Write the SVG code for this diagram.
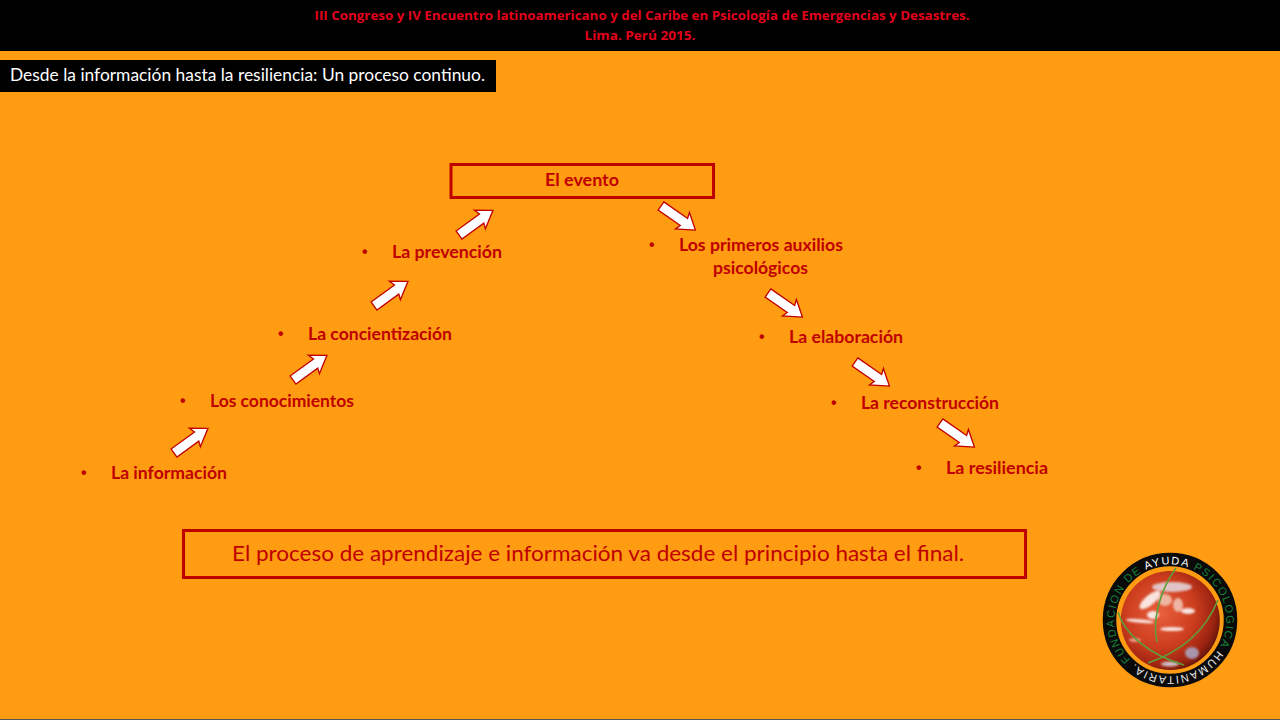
<svg xmlns="http://www.w3.org/2000/svg" width="1280" height="720" viewBox="0 0 1280 720">
<style>
.lbl{font-family:Lato,"Open Sans",sans-serif;font-size:16.500px;font-weight:700;fill:#c00000}
.bul{font-family:"Liberation Sans",sans-serif;font-size:16px;font-weight:700;fill:#c00000}
.box{fill:none;stroke:#c00000;stroke-width:3}
.arrow{fill:#fff;stroke:#c00000;stroke-width:1.3;stroke-linejoin:miter}
.hd{font-family:"Open Sans",sans-serif;font-size:12px;font-weight:700;fill:#e3001b;text-anchor:middle}
.logo{font-family:"Liberation Sans",sans-serif;font-size:11px;letter-spacing:1.500px}
</style>
<defs>
<polygon id="arr" points="0,-5 29,-5 27,-11 42,0 25,10.500 27,5 0,5"/>
<radialGradient id="globe" cx="0.4" cy="0.42" r="0.64">
<stop offset="0" stop-color="#e8603c"/><stop offset="0.55" stop-color="#cc3d1e"/><stop offset="0.85" stop-color="#9c2310"/><stop offset="1" stop-color="#5c150a"/>
</radialGradient>
<filter id="soft" x="-30%" y="-30%" width="160%" height="160%"><feGaussianBlur stdDeviation="0.8"/></filter>
<path id="ring" d="M1130.400,659.600A56,56 0 1 1 1131.100,660.300"/>
</defs>
<rect width="1280" height="720" fill="#ff9c12"/>
<rect y="719" width="1280" height="1" fill="#555"/>
<g id="header">
<rect width="1280" height="51" fill="#000"/>
<text class="hd" x="642" y="20" textLength="655" lengthAdjust="spacingAndGlyphs">III Congreso y IV Encuentro latinoamericano y del Caribe en Psicología de Emergencias y Desastres.</text>
<text class="hd" x="640" y="40" textLength="111" lengthAdjust="spacingAndGlyphs">Lima. Perú 2015.</text>
</g>
<g id="title">
<rect y="60" width="496" height="32" fill="#000"/>
<text x="10" y="81" font-family="Lato,'Open Sans',sans-serif" font-size="18" fill="#fff" textLength="475" lengthAdjust="spacingAndGlyphs">Desde la información hasta la resiliencia: Un proceso continuo.</text>
</g>
<g id="connectors">
<use href="#arr" class="arrow" transform="translate(174,453) rotate(-36)"/>
<use href="#arr" class="arrow" transform="translate(293,380) rotate(-36)"/>
<use href="#arr" class="arrow" transform="translate(374,306) rotate(-36)"/>
<use href="#arr" class="arrow" transform="translate(459,235) rotate(-36)"/>
<use href="#arr" class="arrow" transform="translate(661,206) rotate(35)"/>
<use href="#arr" class="arrow" transform="translate(768,293) rotate(35)"/>
<use href="#arr" class="arrow" transform="translate(855,362) rotate(35)"/>
<use href="#arr" class="arrow" transform="translate(940,423) rotate(35)"/>
</g>
<g id="n-evento">
<rect class="box" x="451" y="164.500" width="262.500" height="33"/>
<text class="lbl" x="545" y="186" textLength="74" lengthAdjust="spacingAndGlyphs">El evento</text>
</g>
<g id="n-informacion"><text class="bul" x="81" y="478">•</text><text class="lbl" x="111" y="479" textLength="116" lengthAdjust="spacingAndGlyphs">La información</text></g>
<g id="n-conocimientos"><text class="bul" x="180" y="406">•</text><text class="lbl" x="210" y="407" textLength="144" lengthAdjust="spacingAndGlyphs">Los conocimientos</text></g>
<g id="n-concientizacion"><text class="bul" x="278" y="339">•</text><text class="lbl" x="308" y="340" textLength="144" lengthAdjust="spacingAndGlyphs">La concientización</text></g>
<g id="n-prevencion"><text class="bul" x="362" y="257">•</text><text class="lbl" x="392" y="258" textLength="110" lengthAdjust="spacingAndGlyphs">La prevención</text></g>
<g id="n-auxilios"><text class="bul" x="649" y="250">•</text><text class="lbl" x="679" y="251" textLength="164" lengthAdjust="spacingAndGlyphs">Los primeros auxilios</text><text class="lbl" x="713" y="274" textLength="95" lengthAdjust="spacingAndGlyphs">psicológicos</text></g>
<g id="n-elaboracion"><text class="bul" x="759" y="342">•</text><text class="lbl" x="789" y="343" textLength="114" lengthAdjust="spacingAndGlyphs">La elaboración</text></g>
<g id="n-reconstruccion"><text class="bul" x="831" y="408">•</text><text class="lbl" x="861" y="409" textLength="138" lengthAdjust="spacingAndGlyphs">La reconstrucción</text></g>
<g id="n-resiliencia"><text class="bul" x="916" y="473">•</text><text class="lbl" x="946" y="474" textLength="102" lengthAdjust="spacingAndGlyphs">La resiliencia</text></g>
<g id="n-proceso">
<rect class="box" x="183.500" y="530.500" width="842" height="47"/>
<text x="232" y="561" font-family="Lato,'Open Sans',sans-serif" font-size="21" fill="#c00000" textLength="732" lengthAdjust="spacingAndGlyphs">El proceso de aprendizaje e información va desde el principio hasta el final.</text>
</g>
<g id="logo">
<circle cx="1170" cy="620" r="60.500" fill="none" stroke="#0a0a0a" stroke-width="13.500"/>
<circle cx="1170.300" cy="620.500" r="49.500" fill="url(#globe)"/>
<g fill="#fff" filter="url(#soft)" opacity="0.85">
<ellipse cx="1150" cy="600" rx="13" ry="5" transform="rotate(-40 1150 600)"/>
<ellipse cx="1153" cy="615" rx="6" ry="4"/>
<ellipse cx="1140" cy="621" rx="14" ry="1.800" transform="rotate(5 1140 621)"/>
<ellipse cx="1172" cy="587" rx="20" ry="5" fill="#e4dbe2"/>
<ellipse cx="1165" cy="600" rx="7" ry="6" fill="#f3c7b8"/>
<ellipse cx="1172" cy="629" rx="12" ry="2"/>
<ellipse cx="1188" cy="611" rx="7" ry="3"/>
<ellipse cx="1178" cy="605" rx="5" ry="7" fill="#f3c7b8"/>
<ellipse cx="1135" cy="640" rx="6" ry="2" fill="#f0a590"/>
<ellipse cx="1192" cy="653" rx="7" ry="6" fill="#a9a9c8"/>
<ellipse cx="1170" cy="664" rx="9" ry="2.500" fill="#d8d8e4"/>
</g>
<path d="M1176,568C1160,590 1152,620 1157,642M1218,600C1205,632 1180,652 1148,663M1118,612C1125,635 1150,655 1184,665" fill="none" stroke="#5f9e3c" stroke-width="1.600"/>
<text class="logo"><textPath href="#ring"><tspan fill="#15803a">FUNDACION DE </tspan><tspan fill="#fff">AYUDA </tspan><tspan fill="#15803a">PSICOLOGICA </tspan><tspan fill="#e8e8e8">HUMANITARIA.</tspan></textPath></text>
</g>
</svg>
